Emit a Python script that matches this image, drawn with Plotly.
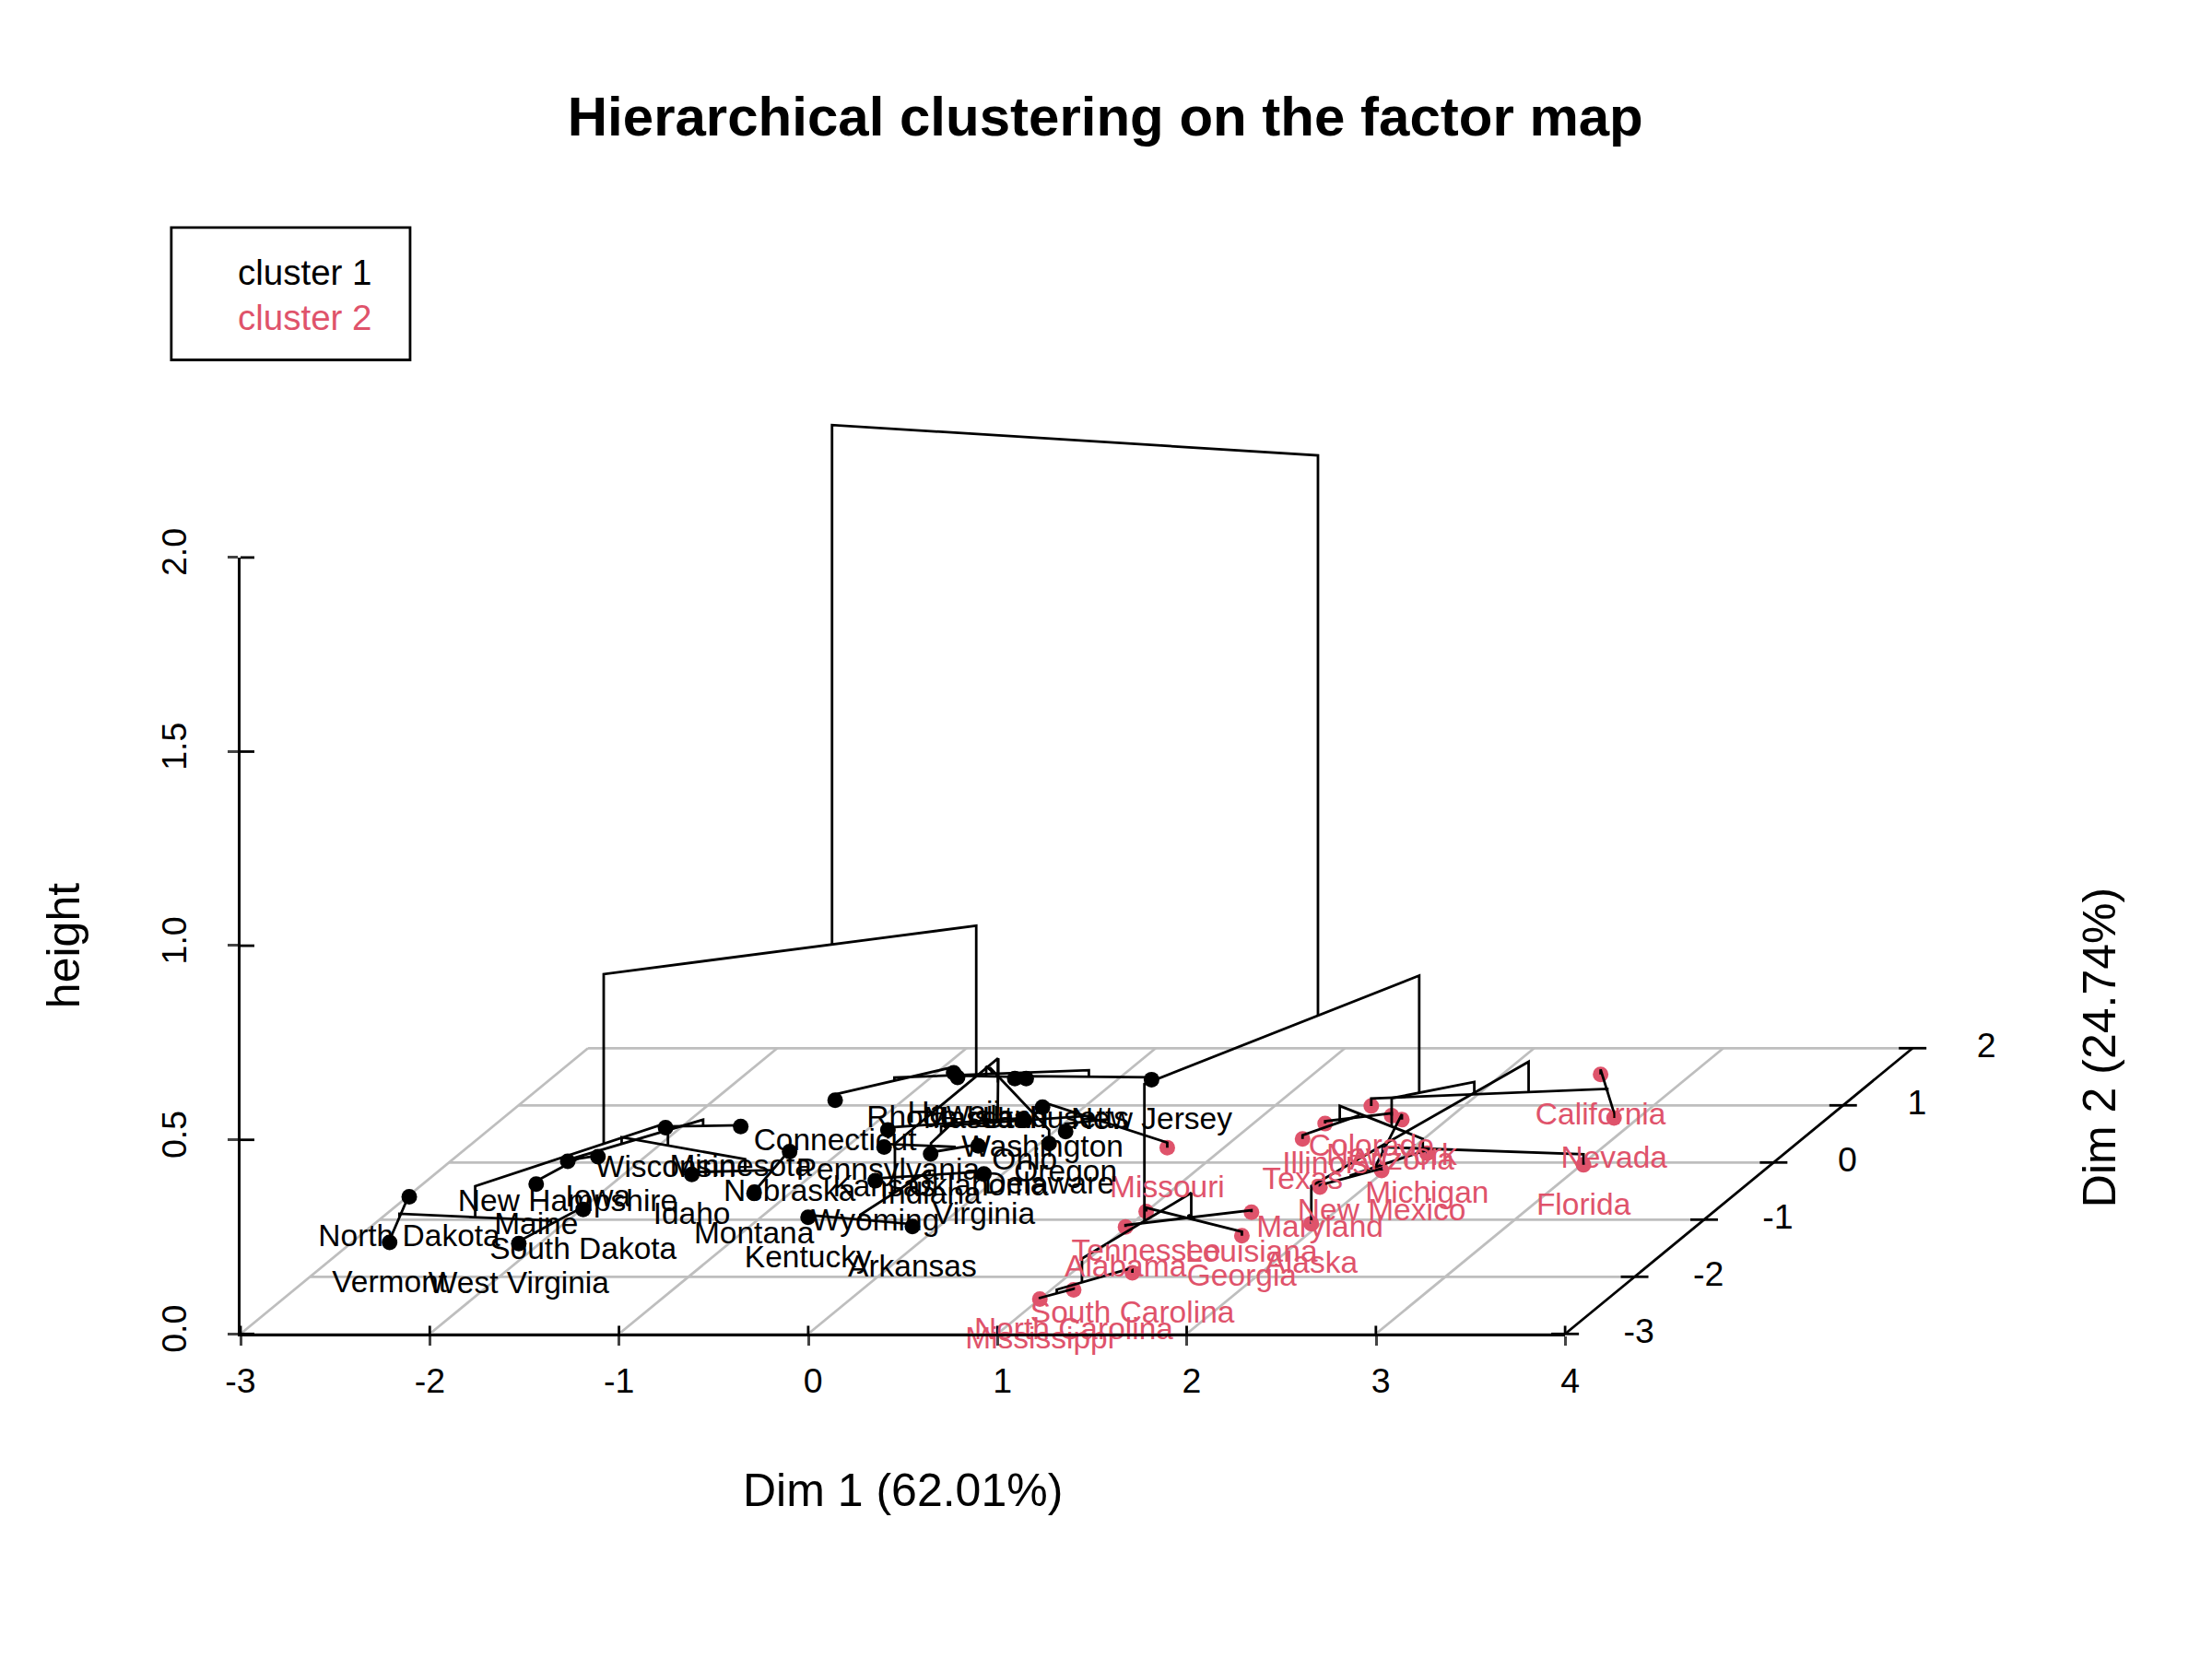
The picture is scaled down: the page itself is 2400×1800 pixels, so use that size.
"""Hierarchical clustering on the factor map: dendrogram drawn over the Dim 1 / Dim 2 plane."""
import plotly.graph_objects as go

FONT = "Liberation Sans"
RED = "#DF536B"
GREY = "#BEBEBE"

states = [
    "Alabama", "Alaska", "Arizona", "Arkansas", "California", "Colorado", "Connecticut", "Delaware",
    "Florida", "Georgia", "Hawaii", "Idaho", "Illinois", "Indiana", "Iowa", "Kansas", "Kentucky",
    "Louisiana", "Maine", "Maryland", "Massachusetts", "Michigan", "Minnesota", "Mississippi",
    "Missouri", "Montana", "Nebraska", "Nevada", "New Hampshire", "New Jersey", "New Mexico",
    "New York", "North Carolina", "North Dakota", "Ohio", "Oklahoma", "Oregon", "Pennsylvania",
    "Rhode Island", "South Carolina", "South Dakota", "Tennessee", "Texas", "Utah", "Vermont",
    "Virginia", "Washington", "West Virginia", "Wisconsin", "Wyoming",
]
dim1 = [
    0.99, 1.95, 1.76, -0.14, 2.52, 1.51, -1.36, 0.05, 3.01, 1.66, -0.91, -1.64, 1.38, -0.51, -2.25,
    -0.80, -0.75, 1.56, -2.40, 1.76, -0.49, 2.11, -1.69, 1.00, 0.70, -1.19, -1.27, 2.87, -2.38, 0.18,
    1.98, 1.68, 1.12, -2.99, -0.23, -0.31, 0.06, -0.89, -0.86, 1.32, -1.99, 1.00, 1.36, -0.55, -2.80,
    -0.10, -0.22, -2.11, -2.08, -0.63,
]
dim2 = [
    -1.13, -1.07, 0.75, -1.12, 1.54, 0.99, 1.09, 0.33, -0.04, -1.28, 1.57, -0.21, 0.68, 0.15, 0.10,
    0.27, -0.96, -0.87, -0.38, -0.43, 1.47, 0.16, 0.63, -2.39, 0.26, -0.54, 0.19, 0.78, 0.02, 1.45,
    -0.14, 0.82, -2.23, -0.60, 0.74, 0.29, 0.54, 0.57, 1.49, -1.93, -0.82, -0.86, 0.41, 1.47, -1.40,
    -0.20, 0.97, -1.42, 0.61, -0.32,
]
cluster = [
    2, 2, 2, 1, 2, 2, 1, 1, 2, 2, 1, 1, 2, 1, 1, 1, 1, 2, 1, 2, 1, 2, 1, 2, 2, 1, 1, 2, 1, 1,
    2, 2, 2, 1, 1, 1, 1, 1, 1, 2, 1, 2, 2, 1, 1, 1, 1, 1, 1, 1,
]

# merges in order: new node, its two children, height of the join
merge_node = [
    "nd_vt", "sd_wv", "rural4", "ia_nh", "me_ia", "wi_mn", "north5", "mt_ne", "id_mt", "north8", "left12",
    "ky_ar", "wy_va", "south4", "ct_hi", "ma_nj", "coast4", "ri_ut", "coast6", "coast7", "ok_in", "ks_mid",
    "pa_oh", "mid5", "mo_wa", "west3", "mid8", "east15", "right19", "black31", "il_ny", "tx_il", "nm_md",
    "mi_nm", "az_mi", "fl_az", "sw8", "ca_nv", "co_ca", "ak_co", "west12", "al_la", "ga_tn", "gulf4",
    "ms_nc", "sc_ms", "south7", "red19", "root",
]
merge_left = [
    "North Dakota", "South Dakota", "nd_vt", "Iowa", "Maine", "Wisconsin", "me_ia", "Montana", "Idaho",
    "north5", "rural4", "Kentucky", "Wyoming", "ky_ar", "Connecticut", "Massachusetts", "ct_hi",
    "Rhode Island", "coast4", "coast6", "Oklahoma", "Kansas", "Pennsylvania", "ks_mid", "Missouri", "Oregon",
    "mid5", "coast7", "south4", "left12", "Illinois", "Texas", "New Mexico", "Michigan", "Arizona", "Florida",
    "tx_il", "California", "Colorado", "Alaska", "sw8", "Alabama", "Georgia", "al_la", "Mississippi",
    "South Carolina", "gulf4", "south7", "black31",
]
merge_right = [
    "Vermont", "West Virginia", "sd_wv", "New Hampshire", "ia_nh", "Minnesota", "wi_mn", "Nebraska", "mt_ne",
    "id_mt", "north8", "Arkansas", "Virginia", "wy_va", "Hawaii", "New Jersey", "ma_nj", "Utah", "ri_ut",
    "Delaware", "Indiana", "ok_in", "Ohio", "pa_oh", "Washington", "mo_wa", "west3", "mid8", "east15",
    "right19", "New York", "il_ny", "Maryland", "nm_md", "mi_nm", "az_mi", "fl_az", "Nevada", "ca_nv", "co_ca",
    "ak_co", "Louisiana", "Tennessee", "ga_tn", "North Carolina", "ms_nc", "sc_ms", "west12", "red19",
]
merge_height = [
    0.006, 0.006, 0.015, 0.003, 0.008, 0.003, 0.019, 0.004, 0.006, 0.036, 0.095,
    0.006, 0.006, 0.0185, 0.015, 0.006, 0.023, 0.004, 0.030, 0.035, 0.004, 0.008,
    0.006, 0.015, 0.013, 0.020, 0.034, 0.082, 0.144, 0.532, 0.006, 0.010, 0.005,
    0.009, 0.014, 0.027, 0.052, 0.013, 0.019, 0.097, 0.125, 0.005, 0.010, 0.012,
    0.003, 0.0126, 0.074, 0.427, 1.870,
]

dim1_ticks = [-3, -2, -1, 0, 1, 2, 3, 4]
dim2_ticks = [-3, -2, -1, 0, 1, 2]
height_ticks = [0.0, 0.5, 1.0, 1.5, 2.0]


def project(d1, d2, h=0.0):
    """Oblique view: each unit of Dim 2 shifts right and up on the page."""
    return d1 + (d2 + 3) * 0.3673, h + (d2 + 3) * 0.1472


def segments_trace(segments, color, width):
    """One line trace out of a list of polylines, each a list of (x, y)."""
    xs, ys = [], []
    for seg in segments:
        xs += [p[0] for p in seg] + [None]
        ys += [p[1] for p in seg] + [None]
    return go.Scatter(x=xs, y=ys, mode="lines", line=dict(color=color, width=width),
                      hoverinfo="skip", showlegend=False)


# base plane
grid = []
for d2 in dim2_ticks:
    grid.append([project(-3, d2), project(4, d2)])
for d1 in dim1_ticks[:-1]:
    grid.append([project(d1, -3), project(d1, 2)])

# Dim 2 axis plus the parts of the ticks that R draws across the axis lines
axis_marks = [[project(4, -3), project(4, 2)]]
for d2 in dim2_ticks:
    x, y = project(4, d2)
    axis_marks.append([(x - 0.073, y), (x + 0.073, y)])
for d1 in dim1_ticks:
    axis_marks.append([(d1, 0), (d1, 0.021)])
for h in height_ticks:
    axis_marks.append([(-3, h), (-2.927, h)])

# dendrogram: every node sits at the mean of its leaves
nodes = {name: (a, b, 0.0, 1) for name, a, b in zip(states, dim1, dim2)}
tree = []
for name, left, right, height in zip(merge_node, merge_left, merge_right, merge_height):
    a, b = nodes[left], nodes[right]
    tree.append([
        project(a[0], a[1], a[2]), project(a[0], a[1], height),
        project(b[0], b[1], height), project(b[0], b[1], b[2]),
    ])
    n = a[3] + b[3]
    nodes[name] = ((a[0] * a[3] + b[0] * b[3]) / n, (a[1] * a[3] + b[1] * b[3]) / n, height, n)

fig = go.Figure()
fig.add_trace(segments_trace(grid, GREY, 2.8))
fig.add_trace(segments_trace(axis_marks, "black", 2.8))

colors = ["black" if c == 1 else RED for c in cluster]
px, py = zip(*[project(a, b) for a, b in zip(dim1, dim2)])
fig.add_trace(go.Scatter(x=px, y=py, mode="markers", marker=dict(color=colors, size=17),
                         hovertext=states, hoverinfo="text", showlegend=False))
fig.add_trace(segments_trace(tree, "black", 2.8))
fig.add_trace(go.Scatter(x=px, y=[v - 0.108 for v in py], mode="text", text=states, textposition="middle center",
                         textfont=dict(family=FONT, size=33.5, color=colors), hoverinfo="skip", showlegend=False))

# Dim 2 tick labels
label_x, label_y = zip(*[project(4, d2) for d2 in dim2_ticks])
fig.add_trace(go.Scatter(x=[v + 0.39 for v in label_x], y=label_y, mode="text", text=[str(d) for d in dim2_ticks],
                         textposition="middle center", textfont=dict(family=FONT, size=37.5, color="black"),
                         hoverinfo="skip", showlegend=False))

# empty trace so the visible Dim 1 / height axes are drawn
fig.add_trace(go.Scatter(x=[None], y=[None], xaxis="x2", yaxis="y2", mode="markers", showlegend=False))

texts = [
    dict(text="Dim 1 (62.01%)", x=0.502, y=-0.404, font=dict(size=50), textangle=0),
    dict(text="height", x=-3.935, y=1.0, font=dict(size=50), textangle=-90),
    dict(text="Dim 2 (24.74%)", x=6.826, y=0.737, font=dict(size=50), textangle=-90),
    dict(text="cluster 1", x=-3.023, y=2.734, font=dict(size=38.5, color="black"), xanchor="left"),
    dict(text="cluster 2", x=-3.023, y=2.618, font=dict(size=38.5, color=RED), xanchor="left"),
]
for t in texts:
    fig.add_annotation(xref="x", yref="y", showarrow=False, **t)

fig.add_shape(type="rect", xref="x", yref="y", x0=-3.366, x1=-2.104, y0=2.509, y1=2.85,
              line=dict(color="black", width=2.8), fillcolor="rgba(0,0,0,0)")

# R leaves room for a minus sign, so the positive labels sit a little right of their ticks
dim1_labels = [str(d) if d < 0 else f"\u00a0{d}" for d in dim1_ticks]

fig.update_layout(
    width=2400, height=1800,
    margin=dict(l=0, r=0, t=0, b=0, autoexpand=False),
    paper_bgcolor="white", plot_bgcolor="rgba(0,0,0,0)",
    font=dict(family=FONT, color="black"),
    title=dict(text="<b>Hierarchical clustering on the factor map</b>", x=0.4997, y=0.93,
               xanchor="center", yanchor="middle", font=dict(size=60, family=FONT, color="black")),
    showlegend=False,
    # the whole canvas, marks can run past the axis lines
    xaxis=dict(domain=[0, 1], range=[-4.2713, 7.4187], visible=False),
    yaxis=dict(domain=[0, 1], range=[-0.8374, 3.4361], visible=False),
    # the visible axes share the same scale, only shorter
    xaxis2=dict(domain=[261 / 2400, 1698.4 / 2400], range=[-3, 4], anchor="y2",
                tickmode="array", tickvals=dim1_ticks, ticktext=dim1_labels,
                ticks="outside", ticklen=10, tickwidth=2.8, showline=True, linecolor="black", linewidth=2.8,
                showgrid=False, zeroline=False, tickfont=dict(size=37.5), ticklabelstandoff=6),
    yaxis2=dict(domain=[352.7 / 1800, 1195.4 / 1800], range=[0, 2], anchor="x2",
                tickmode="array", tickvals=height_ticks, ticktext=[f"{v:.1f}" for v in height_ticks],
                ticks="outside", ticklen=11, tickwidth=2.8, showline=True, linecolor="black", linewidth=2.8,
                showgrid=False, zeroline=False, tickangle=-90, tickfont=dict(size=37.5), ticklabelstandoff=30),
)
fig.write_html("out.html", config={"displayModeBar": False}, post_script="document.body.style.margin = '0';")
